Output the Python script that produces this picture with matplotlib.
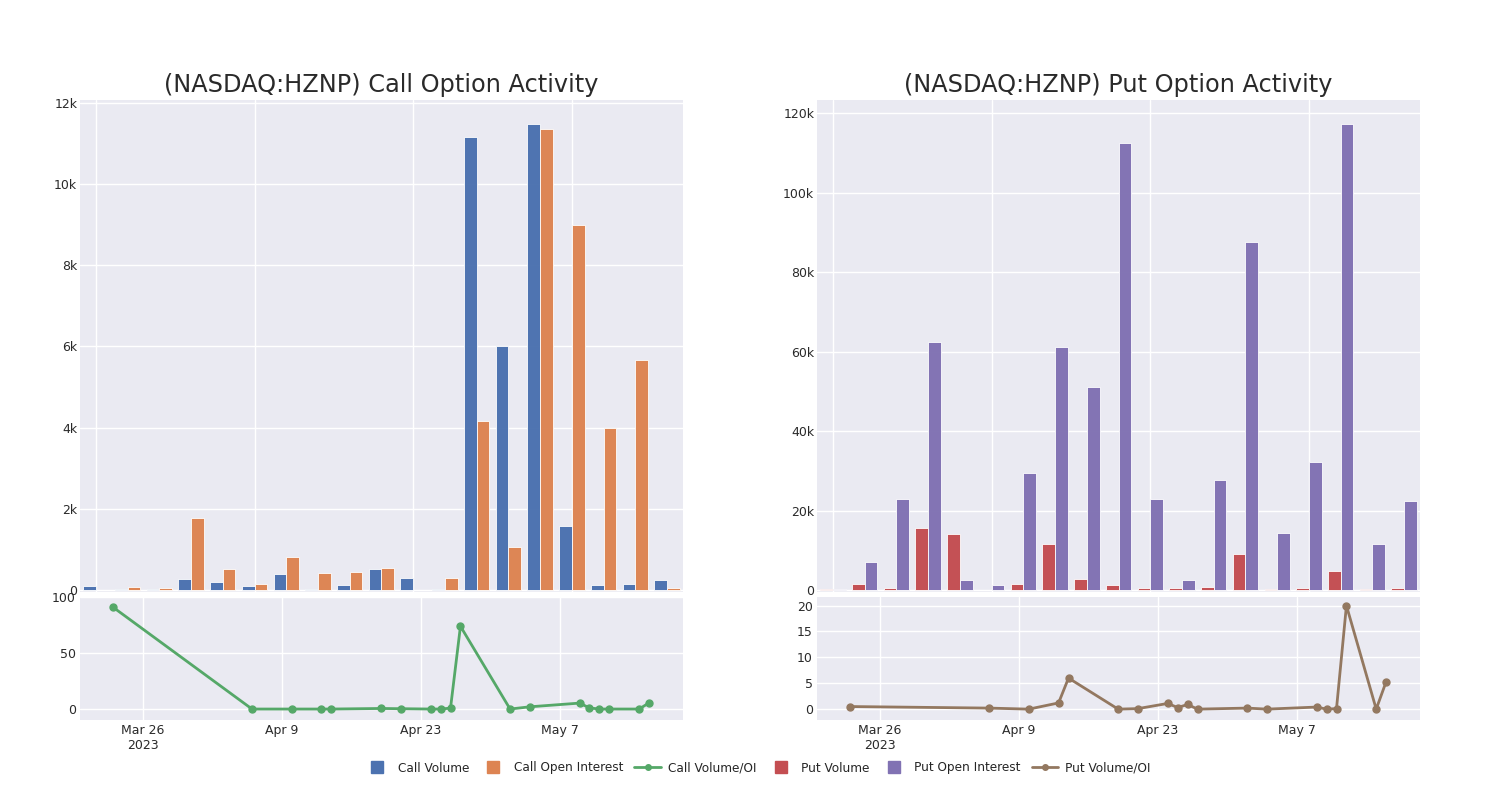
import matplotlib
matplotlib.use('Agg')
import matplotlib.pyplot as plt
import matplotlib.dates as mdates
from matplotlib.lines import Line2D
import numpy as np
import pandas as pd

# Fechas de las sesiones
fechas = pd.to_datetime(['2023-03-23', '2023-04-06', '2023-04-10', '2023-04-13', '2023-04-14',
                         '2023-04-19', '2023-04-21', '2023-04-24', '2023-04-25', '2023-04-26',
                         '2023-04-27', '2023-05-02', '2023-05-04', '2023-05-09', '2023-05-10',
                         '2023-05-11', '2023-05-12', '2023-05-15', '2023-05-16'])

# Calls
call_volume = [90, 15, 15, 260, 200, 90, 400, 30, 130, 520, 300, 20, 11150, 6000, 11480, 1570, 120, 150, 250]
call_oi = [1, 80, 40, 1780, 520, 140, 800, 410, 450, 550, 4, 290, 4160, 1070, 11360, 9000, 3980, 5660, 50]
call_ratio = [91, 0, 0, 0, 0, 0.5, 0.3, 0, 0, 0.8, 74, 0, 2, 5.3, 1, 0, 0, 0, 5.5]

# Puts
put_volume = [300, 1400, 400, 15700, 14100, 0, 1400, 11600, 2800, 1200, 400, 500, 800, 9000, 300, 500, 4700, 300, 600]
put_oi = [200, 7000, 23000, 62500, 2500, 1200, 29500, 61200, 51200, 112500, 23000, 2500, 27600, 87600, 14400, 32100, 117300, 11600, 22500]
put_ratio = [0.5, 0.2, 0, 1.2, 6, 0, 0.1, 1.1, 0.3, 0.9, 0, 0.2, 0, 0.4, 0, 0.1, 20, 0, 5.3]

plt.style.use('seaborn-v0_8-darkgrid')
plt.rcParams['font.family'] = 'DejaVu Sans'
azul, naranja, verde = '#4C72B0', '#DD8452', '#55A868'
rojo, morado, cafe = '#C44E52', '#8172B3', '#937860'

fig = plt.figure(figsize=(15, 8), dpi=100)

def k_fmt(v, pos):
    if v == 0:
        return '0'
    return f'{v/1000:g}k'

fecha_ticks = pd.to_datetime(['2023-03-26', '2023-04-09', '2023-04-23', '2023-05-07'])
fecha_labels = ['Mar 26\n2023', 'Apr 9', 'Apr 23', 'May 7']
xlim_fechas = (mdates.date2num(pd.Timestamp('2023-03-19 16:00')), mdates.date2num(pd.Timestamp('2023-05-19 10:00')))

def panel(left, titulo, vol, oi, ratio, c_vol, c_oi, c_line, ymax_bar, yticks_bar, ylim_line, yticks_line):
    ax = fig.add_axes([left, 0.26, 0.402, 0.615])
    x = np.arange(len(vol))
    w = 0.4
    ax.bar(x - w/2, vol, width=w, color=c_vol, edgecolor='#ffffff', linewidth=0.6, alpha=0.98)
    ax.bar(x + w/2, oi, width=w, color=c_oi, edgecolor='#ffffff', linewidth=0.6, alpha=0.98)
    ax.set_xlim(-0.5, len(vol) - 0.5)
    ax.set_ylim(ymax_bar)
    ax.set_xticks([0, 5, 10, 15])
    ax.set_xticklabels([])
    ax.set_yticks(yticks_bar)
    ax.yaxis.set_major_formatter(plt.FuncFormatter(k_fmt))
    ax.tick_params(length=0, labelsize=9, colors='#2a2a2a', pad=2)
    ax.set_title(titulo, fontsize=17.3, color='#2a2a2a', pad=6)

    ax2 = fig.add_axes([left, 0.10, 0.402, 0.154])
    ax2.plot(fechas, ratio, color=c_line, linewidth=2, marker='o', markersize=5)
    ax2.set_xlim(xlim_fechas)
    ax2.set_ylim(ylim_line)
    ax2.set_yticks(yticks_line)
    ax2.set_xticks(mdates.date2num(fecha_ticks))
    ax2.set_xticklabels(fecha_labels)
    ax2.tick_params(length=0, labelsize=9, colors='#2a2a2a', pad=3)
    for a in (ax, ax2):
        for s in a.spines.values():
            s.set_visible(False)
        a.set_facecolor('#EAEAF2')
        a.grid(True, color='white', linewidth=1)

panel(0.0533, '(NASDAQ:HZNP) Call Option Activity', call_volume, call_oi, call_ratio,
      azul, naranja, verde, (-50, 12070), [0, 2000, 4000, 6000, 8000, 10000, 12000],
      (-9.8, 100.3), [0, 50, 100])
panel(0.5447, '(NASDAQ:HZNP) Put Option Activity', put_volume, put_oi, put_ratio,
      rojo, morado, cafe, (-500, 123300), [0, 20000, 40000, 60000, 80000, 100000, 120000],
      (-2.1, 21.7), [0, 5, 10, 15, 20])

handles = [
    Line2D([], [], marker='s', linestyle='none', color=azul, markersize=9),
    Line2D([], [], marker='s', linestyle='none', color=naranja, markersize=9),
    Line2D([], [], marker='o', color=verde, markersize=4, linewidth=2),
    Line2D([], [], marker='s', linestyle='none', color=rojo, markersize=9),
    Line2D([], [], marker='s', linestyle='none', color=morado, markersize=9),
    Line2D([], [], marker='o', color=cafe, markersize=4, linewidth=2),
]
labels = ['Call Volume', 'Call Open Interest', 'Call Volume/OI', 'Put Volume', 'Put Open Interest', 'Put Volume/OI']
fig.legend(handles, labels, loc='center', bbox_to_anchor=(0.505, 0.04), ncol=6, frameon=False,
           fontsize=8.7, handlelength=2.2, columnspacing=0.9, handletextpad=0.6)

fig.savefig('out.png', dpi=100, facecolor='white')
